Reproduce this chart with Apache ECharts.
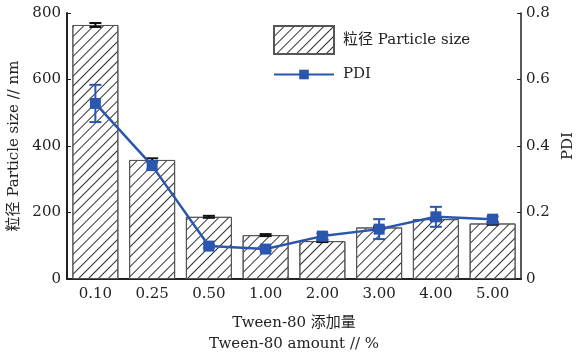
<!DOCTYPE html>
<html>
<head>
<meta http-equiv="Content-Type" content="text/html; charset=utf-8" />
<title>Tween-80 PDI</title>
<script type="text/javascript" src="https://cdn.jsdelivr.net/npm/echarts@6/dist/echarts.min.js"></script>
<style>
  html, body { margin: 0; padding: 0; background: #fff; }
  #chart { width: 579px; height: 354px; }
</style>
</head>
<body>
<div id="chart"></div>
<script>
  // 数据
  var categories = ['0.10', '0.25', '0.50', '1.00', '2.00', '3.00', '4.00', '5.00'];
  var sizeValues = [764, 358, 187, 132, 114, 155, 180, 167];
  var sizeErr = [6, 5, 3, 3, 3, 3, 4, 4];
  var pdiValues = [0.528, 0.341, 0.099, 0.090, 0.129, 0.150, 0.187, 0.180];
  var pdiErr = [0.056, 0.012, 0.005, 0.005, 0.008, 0.030, 0.030, 0.008];
  var pdiTicks = ['0', '0.2', '0.4', '0.6', '0.8'];

  var FONT = "'DejaVu Serif', 'Noto Sans CJK SC', serif";
  var BLUE = '#2a56ad';
  var INK = '#222';

  function errorBar(values, errs, axisIndex, color, capW, lw) {
    return {
      type: 'custom',
      yAxisIndex: axisIndex,
      silent: true,
      z: 5,
      data: values.map(function (v, i) { return [i, v - errs[i], v + errs[i]]; }),
      renderItem: function (params, api) {
        var lo = api.coord([api.value(0), api.value(1)]);
        var hi = api.coord([api.value(0), api.value(2)]);
        var x = lo[0];
        var st = { stroke: color, lineWidth: lw };
        return {
          type: 'group',
          children: [
            { type: 'line', shape: { x1: x, y1: lo[1], x2: x, y2: hi[1] }, style: st },
            { type: 'line', shape: { x1: x - capW / 2, y1: lo[1], x2: x + capW / 2, y2: lo[1] }, style: st },
            { type: 'line', shape: { x1: x - capW / 2, y1: hi[1], x2: x + capW / 2, y2: hi[1] }, style: st }
          ]
        };
      }
    };
  }

  var myChart = echarts.init(document.getElementById('chart'));

  var legendText = { fontFamily: FONT, fontSize: 15, color: INK, padding: [0, 0, 0, 4] };

  var option = {
    animation: false,
    textStyle: { fontFamily: FONT },
    grid: { left: 67, right: 58, top: 13, bottom: 75, outerBoundsMode: 'none', containLabel: false },
    legend: [
      {
        left: 273, top: 25, padding: 0,
        itemWidth: 60, itemHeight: 28, itemGap: 0,
        icon: 'rect',
        textStyle: legendText,
        data: ['粒径 Particle size']
      },
      {
        left: 273, top: 67, padding: 0,
        itemWidth: 60, itemHeight: 12, itemGap: 0,
        textStyle: legendText,
        data: ['PDI']
      }
    ],
    xAxis: {
      type: 'category',
      data: categories,
      axisLine: { lineStyle: { color: INK, width: 2 } },
      axisTick: { show: false },
      axisLabel: { color: INK, fontSize: 15, margin: 8, fontFamily: FONT },
      name: 'Tween-80 添加量\nTween-80 amount // %',
      nameLocation: 'middle',
      nameGap: 34,
      nameTextStyle: { color: INK, fontSize: 15, lineHeight: 21, fontFamily: FONT }
    },
    yAxis: [
      {
        type: 'value',
        min: 0, max: 800, interval: 200,
        splitLine: { show: false },
        axisLine: { show: true, lineStyle: { color: INK, width: 2 } },
        axisTick: { show: true, inside: true, length: 4, lineStyle: { color: INK } },
        axisLabel: { color: INK, fontSize: 15, margin: 6, fontFamily: FONT },
        name: '粒径 Particle size // nm',
        nameLocation: 'middle',
        nameGap: 44,
        nameTextStyle: { color: INK, fontSize: 15, fontFamily: FONT }
      },
      {
        type: 'value',
        min: 0, max: 0.8, interval: 0.2,
        splitLine: { show: false },
        axisLine: { show: true, lineStyle: { color: INK, width: 1.5 } },
        axisTick: { show: true, inside: true, length: 4, lineStyle: { color: INK } },
        axisLabel: {
          color: INK, fontSize: 15, margin: 5, fontFamily: FONT,
          formatter: function (v) { return pdiTicks[Math.round(v / 0.2)]; }
        },
        name: 'PDI',
        nameLocation: 'middle',
        nameGap: 40,
        nameTextStyle: { color: INK, fontSize: 15, fontFamily: FONT }
      }
    ],
    series: [
      {
        name: '粒径 Particle size',
        type: 'bar',
        data: sizeValues,
        barWidth: 46,
        itemStyle: {
          color: '#fff',
          borderColor: '#555',
          borderWidth: 1,
          decal: {
            symbol: 'rect',
            symbolSize: 1,
            color: '#333',
            dashArrayX: [1, 0],
            dashArrayY: [1, 6],
            rotation: -Math.PI / 4
          }
        }
      },
      errorBar(sizeValues, sizeErr, 0, '#111', 12, 2),
      {
        name: 'PDI',
        type: 'line',
        yAxisIndex: 1,
        data: pdiValues,
        symbol: 'rect',
        symbolSize: 11,
        z: 6,
        lineStyle: { color: BLUE, width: 2.5 },
        itemStyle: { color: BLUE }
      },
      errorBar(pdiValues, pdiErr, 1, BLUE, 12, 2)
    ]
  };

  myChart.setOption(option);
</script>
</body>
</html>
